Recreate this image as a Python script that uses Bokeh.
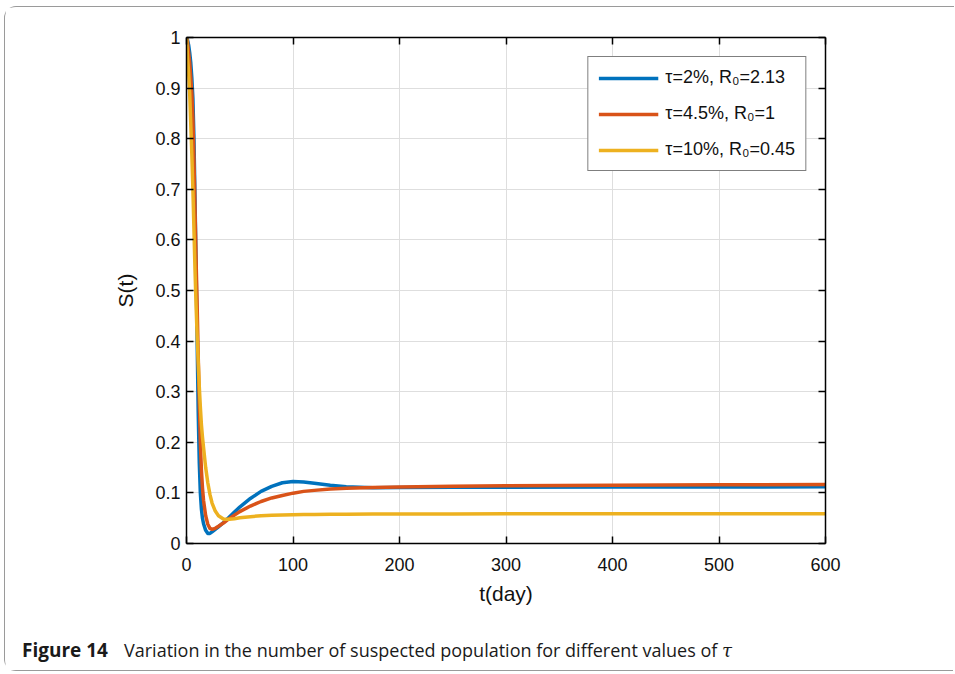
from bokeh.plotting import figure
from bokeh.models import (Range1d, LinearAxis, FixedTicker, Legend, LegendItem,
                          CustomJSTickFormatter)
from bokeh.core.properties import value
from bokeh.embed import file_html
from bokeh.resources import INLINE

# ---------------- data ----------------
t_days = [0, 1, 2, 3, 4, 5, 6, 7, 8, 9, 10, 11, 12, 13, 14, 15, 16, 18, 20, 22, 24,
          27, 30, 35, 40, 45, 50, 60, 70, 80, 90, 100, 110, 120, 135, 150, 175, 200,
          250, 300, 400, 500, 600]

s_tau2 = [1.0, 0.995, 0.985, 0.97, 0.95, 0.92, 0.88, 0.80, 0.68, 0.55, 0.40, 0.26, 0.16,
          0.10, 0.068, 0.050, 0.039, 0.026, 0.020, 0.020, 0.023, 0.028, 0.033, 0.042,
          0.052, 0.062, 0.072, 0.089, 0.103, 0.113, 0.120, 0.1225, 0.1215, 0.119, 0.115,
          0.112, 0.110, 0.1105, 0.111, 0.1112, 0.1115, 0.1118, 0.112]

s_tau45 = [1.0, 0.99, 0.97, 0.95, 0.92, 0.89, 0.84, 0.76, 0.66, 0.56, 0.47, 0.37, 0.28,
           0.20, 0.145, 0.11, 0.085, 0.055, 0.038, 0.030, 0.028, 0.030, 0.034, 0.041,
           0.049, 0.056, 0.063, 0.074, 0.083, 0.090, 0.095, 0.0995, 0.103, 0.105, 0.1075,
           0.109, 0.1105, 0.1115, 0.113, 0.114, 0.115, 0.116, 0.1165]

s_tau10 = [1.0, 0.96, 0.93, 0.89, 0.83, 0.77, 0.70, 0.62, 0.54, 0.47, 0.41, 0.36, 0.31,
           0.27, 0.235, 0.21, 0.19, 0.15, 0.12, 0.097, 0.08, 0.064, 0.055, 0.048, 0.048,
           0.049, 0.051, 0.053, 0.055, 0.056, 0.0565, 0.057, 0.0572, 0.0575, 0.0578,
           0.058, 0.0582, 0.0583, 0.0585, 0.0587, 0.0588, 0.0589, 0.059]

series_labels = ["\u03c4=2%, R\u2080=2.13", "\u03c4=4.5%, R\u2080=1", "\u03c4=10%, R\u2080=0.45"]
series_colors = ["#0072BD", "#D95319", "#EDB120"]

x_ticks = [0, 100, 200, 300, 400, 500, 600]
y_ticks = [0, 0.1, 0.2, 0.3, 0.4, 0.5, 0.6, 0.7, 0.8, 0.9, 1.0]
y_tick_labels = ["0", "0.1", "0.2", "0.3", "0.4", "0.5", "0.6", "0.7", "0.8", "0.9", "1"]

caption_bold = "Figure 14"
caption_text = "Variation in the number of suspected population for different values of"
caption_sym = "\u03c4"

# ---------------- main figure ----------------
W = 949
FL, FT, FW, FH = 181, 30, 639, 506
MAIN_H = 617
CAP_H = 47
BORDER = "1.5px solid #9a9a9a"

p = figure(frame_width=FW, frame_height=FH,
           min_border_left=FL, min_border_top=FT,
           min_border_right=W - FL - FW, min_border_bottom=MAIN_H - FT - FH,
           x_range=Range1d(0, 600), y_range=Range1d(0, 1),
           output_backend="svg", toolbar_location=None,
           background_fill_color="white", border_fill_color="white",
           outline_line_color=None,
           styles={"margin-left": "4px", "margin-top": "6px",
                   "border-left": BORDER, "border-top": BORDER,
                   "border-right": "none", "border-bottom": "none",
                   "border-top-left-radius": "12px"})

TICK_FONT = "Liberation Sans"
AX_COLOR = "#000000"

def style_axis(ax, ticks):
    ax.ticker = FixedTicker(ticks=ticks)
    ax.major_tick_in = 7
    ax.major_tick_out = 0
    ax.minor_tick_line_color = None
    ax.major_tick_line_color = AX_COLOR
    ax.major_tick_line_width = 1.5
    ax.axis_line_color = AX_COLOR
    ax.axis_line_width = 1.5
    ax.major_label_text_font = TICK_FONT
    ax.major_label_text_font_size = "18px"
    ax.major_label_text_color = "#111111"
    ax.axis_label_text_font = TICK_FONT
    ax.axis_label_text_font_size = "21px"
    ax.axis_label_text_font_style = "normal"
    ax.axis_label_text_color = "#111111"

xa = p.xaxis[0]
style_axis(xa, x_ticks)
xa.major_label_standoff = 14
xa.axis_label = "t(day)"
xa.axis_label_standoff = 8

ya = p.yaxis[0]
style_axis(ya, y_ticks)
ya.major_label_overrides = {v: s for v, s in zip(y_ticks, y_tick_labels)}
ya.major_label_standoff = 6
ya.axis_label = "S(t)"
ya.axis_label_standoff = 15

blank = CustomJSTickFormatter(code="return '';")
top_ax = LinearAxis(formatter=blank)
style_axis(top_ax, x_ticks)
p.add_layout(top_ax, "above")
right_ax = LinearAxis(formatter=blank)
style_axis(right_ax, y_ticks)
p.add_layout(right_ax, "right")

p.xgrid.ticker = FixedTicker(ticks=x_ticks)
p.ygrid.ticker = FixedTicker(ticks=y_ticks)
for g in (p.xgrid[0], p.ygrid[0]):
    g.grid_line_color = "#dedede"
    g.grid_line_width = 1

items = []
for ys, lab, col in zip([s_tau2, s_tau45, s_tau10], series_labels, series_colors):
    r = p.line(t_days, ys, line_color=col, line_width=3.5, line_join="round")
    items.append(LegendItem(label=lab, renderers=[r]))

legend = Legend(items=items, location="top_right", margin=19,
                glyph_width=60, glyph_height=20, label_height=20,
                label_standoff=7, spacing=15, padding=10,
                label_text_font=TICK_FONT, label_text_font_size="18px",
                label_text_color="#111111",
                border_line_color="black", border_line_width=1.2,
                background_fill_color="white", background_fill_alpha=1.0)
p.add_layout(legend)

# ---------------- caption figure (separate root, so frames are not aligned) ----------------
c = figure(width=W, height=CAP_H, min_border=0,
           x_range=Range1d(0, W), y_range=Range1d(CAP_H, 0),
           x_axis_type=None, y_axis_type=None,
           output_backend="svg", toolbar_location=None,
           background_fill_color="white", border_fill_color="white",
           outline_line_color=None,
           styles={"margin-left": "4px",
                   "border-left": BORDER, "border-bottom": BORDER,
                   "border-right": "none", "border-top": "none",
                   "border-bottom-left-radius": "12px"})
c.grid.visible = False

CAP_FONT = "Open Sans"
cap_y = 25.5
c.text(x=[16.5], y=[cap_y], text=[caption_bold], text_font=value(CAP_FONT),
       text_font_style="bold", text_font_size="19px", text_color="#1a1a1a",
       text_baseline="middle", text_align="left")
c.text(x=[118.5], y=[cap_y], text=[caption_text], text_font=value(CAP_FONT),
       text_font_style="normal", text_font_size="18px", text_color="#1a1a1a",
       text_baseline="middle", text_align="left")
c.text(x=[716.5], y=[cap_y], text=[caption_sym], text_font=value("DejaVu Serif"),
       text_font_style="italic", text_font_size="18px", text_color="#1a1a1a",
       text_baseline="middle", text_align="left")

open("out.html", "w").write(file_html([p, c], INLINE))
